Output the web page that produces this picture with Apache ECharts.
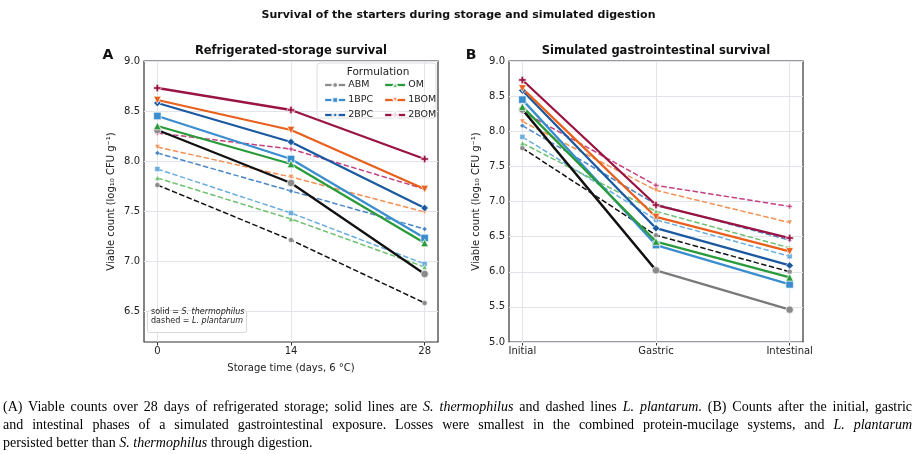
<!DOCTYPE html>
<html><head><meta charset="utf-8">
<script src="https://cdn.jsdelivr.net/npm/echarts@6.0.0/dist/echarts.min.js"></script>
<style>
html,body{margin:0;padding:0;background:#fff;}
#chart{position:absolute;left:0;top:0;width:917px;height:454px;}
#cap{position:absolute;left:3px;top:398px;width:909px;font-family:'Liberation Serif','Times New Roman',serif;font-size:14px;line-height:18px;color:#000;}
.j{text-align:justify;text-align-last:justify;}
</style></head>
<body>
<div id="chart"></div>
<div id="cap">
<div class="j">(A) Viable counts over 28 days of refrigerated storage; solid lines are <i>S. thermophilus</i> and dashed lines <i>L. plantarum</i>. (B) Counts after the initial, gastric</div>
<div class="j">and intestinal phases of a simulated gastrointestinal exposure. Losses were smallest in the combined protein-mucilage systems, and <i>L. plantarum</i></div>
<div>persisted better than <i>S. thermophilus</i> through digestion.</div>
</div>
<script>
// ---- data ----
const storageDays = [0, 14, 28];
const stages = ['Initial', 'Gastric', 'Intestinal'];
const stageIdx = [0, 1, 2];
const yTicksA = [6.5, 7.0, 7.5, 8.0, 8.5, 9.0];
const yTicksB = [5.0, 5.5, 6.0, 6.5, 7.0, 7.5, 8.0, 8.5, 9.0];
const formulations = ['ABM', '1BPC', '2BPC', 'OM', '1BOM', '2BOM'];

// Refrigerated storage, S. thermophilus (solid)
const storeSt_ABM  = [8.31, 7.78, 6.87];
const storeSt_1BPC = [8.45, 8.02, 7.23];
const storeSt_2BPC = [8.58, 8.19, 7.53];
const storeSt_OM   = [8.35, 7.97, 7.18];
const storeSt_1BOM = [8.61, 8.31, 7.72];
const storeSt_2BOM = [8.73, 8.51, 8.02];
// Refrigerated storage, L. plantarum (dashed)
const storeLp_ABM  = [7.76, 7.21, 6.58];
const storeLp_1BPC = [7.92, 7.48, 6.97];
const storeLp_2BPC = [8.08, 7.70, 7.32];
const storeLp_OM   = [7.83, 7.42, 6.94];
const storeLp_1BOM = [8.14, 7.84, 7.49];
const storeLp_2BOM = [8.28, 8.12, 7.72];
// Simulated digestion, S. thermophilus (solid)
const digSt_ABM  = [8.31, 6.02, 5.46];
const digSt_1BPC = [8.45, 6.38, 5.82];
const digSt_2BPC = [8.58, 6.62, 6.09];
const digSt_OM   = [8.35, 6.43, 5.92];
const digSt_1BOM = [8.61, 6.78, 6.29];
const digSt_2BOM = [8.73, 6.95, 6.48];
// Simulated digestion, L. plantarum (dashed)
const digLp_ABM  = [7.76, 6.52, 6.00];
const digLp_1BPC = [7.92, 6.74, 6.22];
const digLp_2BPC = [8.08, 6.96, 6.45];
const digLp_OM   = [7.83, 6.86, 6.34];
const digLp_1BOM = [8.14, 7.16, 6.70];
const digLp_2BOM = [8.28, 7.23, 6.93];

const storeSt = [storeSt_ABM, storeSt_1BPC, storeSt_2BPC, storeSt_OM, storeSt_1BOM, storeSt_2BOM];
const storeLp = [storeLp_ABM, storeLp_1BPC, storeLp_2BPC, storeLp_OM, storeLp_1BOM, storeLp_2BOM];
const digSt = [digSt_ABM, digSt_1BPC, digSt_2BPC, digSt_OM, digSt_1BOM, digSt_2BOM];
const digLp = [digLp_ABM, digLp_1BPC, digLp_2BPC, digLp_OM, digLp_1BOM, digLp_2BOM];

// ---- styles ----
const PLUS = 'path://M-1,-3H1V-1H3V1H1V3H-1V1H-3V-1H-1Z';
const sty = {
  'ABM':  {solid:'#111111', dash:'#111111', mark:'#8a8a8a', markD:'#8a8a8a', sym:'circle'},
  '1BPC': {solid:'#3a8ecf', dash:'#6aaee0', mark:'#3a8ecf', markD:'#6aaee0', sym:'rect'},
  '2BPC': {solid:'#1b5aa0', dash:'#4a86c5', mark:'#1b5aa0', markD:'#4a86c5', sym:'diamond'},
  'OM':   {solid:'#2a9b3a', dash:'#6cc070', mark:'#2a9b3a', markD:'#6cc070', sym:'triangle'},
  '1BOM': {solid:'#e8601c', dash:'#f39155', mark:'#e8601c', markD:'#f39155', sym:'path://M-4,-3.5L4,-3.5L0,3.5Z'},
  '2BOM': {solid:'#9a1442', dash:'#c44180', mark:'#9a1442', markD:'#c44180', sym:PLUS}
};
const FONT = 'DejaVu Sans';

function mk(name, xs, ys, gi, dashed, lineColorOverride) {
  const s = sty[name];
  return {
    name: name, type: 'line', xAxisIndex: gi, yAxisIndex: gi,
    data: xs.map((x, i) => [x, ys[i]]),
    symbol: s.sym, symbolSize: dashed ? 5 : 7.5,
    z: dashed ? 3 : 4,
    lineStyle: {color: lineColorOverride || (dashed ? s.dash : s.solid), width: dashed ? 1.5 : 2.3,
      type: dashed ? [5.5, 2.4] : 'solid'},
    itemStyle: {color: dashed ? s.markD : s.mark, borderColor: 'rgba(255,255,255,0.85)', borderWidth: dashed ? 0.5 : 0.8},
    emphasis: {disabled: true}, animation: false
  };
}

function gridSeries(gi, xs, ys) {
  return {
    name: 'grid' + gi, type: 'line', xAxisIndex: gi, yAxisIndex: gi, data: [], z: 1, silent: true,
    markLine: {
      z: 1, zlevel: 0, silent: true, symbol: 'none', animation: false, label: {show: false},
      lineStyle: {color: '#e1e5eb', width: 1, type: 'solid'},
      data: xs.map(x => ({xAxis: x})).concat(ys.map(y => ({yAxis: y})))
    }
  };
}

const series = [gridSeries(0, storageDays, yTicksA), gridSeries(1, stageIdx, yTicksB)];
formulations.forEach((f, i) => {
  series.push(mk(f, storageDays, storeSt[i], 0, false));
  series.push(mk(f, storageDays, storeLp[i], 0, true));
  series.push(mk(f, stageIdx, digSt[i], 1, false, f === 'ABM' ? '#7a7a7a' : null));
  series.push(mk(f, stageIdx, digLp[i], 1, true));
});
// black overlay on the first digestion segment of the ABM solid line
series.push({
  name: 'ABM-overlay', type: 'line', xAxisIndex: 1, yAxisIndex: 1,
  data: [0, 1].map(i => [stageIdx[i], digSt_ABM[i]]), symbol: 'none', z: 4, silent: true,
  lineStyle: {color: '#111111', width: 2.3}, animation: false
});

const axisCommon = {
  axisLine: {show: false},
  axisTick: {show: true, length: 3.5, lineStyle: {color: '#333', width: 1}},
  axisLabel: {color: '#222', fontFamily: FONT, fontSize: 10, margin: 4},
  splitLine: {show: false}
};
function deep(o){return JSON.parse(JSON.stringify(o));}

const xA = Object.assign(deep(axisCommon), {
  type: 'value', gridIndex: 0, min: -1.4, max: 29.4,
  name: 'Storage time (days, 6 °C)', nameLocation: 'middle', nameGap: 21,
  nameTextStyle: {fontFamily: FONT, fontSize: 10, color: '#222'}
});
xA.axisLabel.customValues = storageDays; xA.axisTick.customValues = storageDays;
xA.axisLabel.formatter = v => String(v);

const xB = Object.assign(deep(axisCommon), {type: 'value', gridIndex: 1, min: -0.1, max: 2.1});
xB.axisLabel.customValues = stageIdx; xB.axisTick.customValues = stageIdx;
xB.axisLabel.formatter = v => stages[Math.round(v)];

const yName = 'Viable count (log\u2081\u2080 CFU g\u207B\u00B9)';
const yA = Object.assign(deep(axisCommon), {
  type: 'value', gridIndex: 0, min: 6.19, max: 9.0,
  name: yName, nameLocation: 'middle', nameGap: 28,
  nameTextStyle: {fontFamily: FONT, fontSize: 10, color: '#222'}
});
yA.axisLabel.customValues = yTicksA; yA.axisTick.customValues = yTicksA;
yA.axisLabel.formatter = v => v.toFixed(1);

const yB = Object.assign(deep(axisCommon), {
  type: 'value', gridIndex: 1, min: 5.0, max: 9.0, interval: 0.5,
  name: yName, nameLocation: 'middle', nameGap: 28,
  nameTextStyle: {fontFamily: FONT, fontSize: 10, color: '#222'}
});
yB.axisLabel.formatter = v => v.toFixed(1);

function legendItem(f) {
  const s = sty[f];
  return {name: f, itemStyle: {color: s.mark}, lineStyle: {color: f === 'ABM' ? '#8a8a8a' : s.solid, width: 2.3}};
}
const legendBase = {
  orient: 'vertical', itemWidth: 20, itemHeight: 7, itemGap: 5, selectedMode: false,
  textStyle: {fontFamily: FONT, fontSize: 9.5, color: '#222', padding: [0, 0, 0, -2]}, padding: 0
};

const option = {
  animation: false,
  backgroundColor: '#fff',
  textStyle: {fontFamily: FONT},
  grid: [
    {left: 144, top: 61, width: 294, height: 281, show: true, borderColor: '#333', borderWidth: 1.2, backgroundColor: 'transparent'},
    {left: 509, top: 61, width: 294, height: 281, show: true, borderColor: '#333', borderWidth: 1.2, backgroundColor: 'transparent'}
  ],
  xAxis: [xA, xB],
  yAxis: [yA, yB],
  legend: [
    Object.assign({}, legendBase, {left: 324, top: 80, data: formulations.slice(0, 3).map(legendItem)}),
    Object.assign({}, legendBase, {left: 384, top: 80, data: formulations.slice(3).map(legendItem)})
  ],
  graphic: [
    {type: 'text', left: 'center', top: 10, style: {text: 'Survival of the starters during storage and simulated digestion', font: 'bold 11px "DejaVu Sans"', fill: '#111'}},
    {type: 'text', x: 291, y: 51, style: {text: 'Refrigerated-storage survival', font: 'bold 11.5px "DejaVu Sans"', fill: '#111', align: 'center', verticalAlign: 'middle'}},
    {type: 'text', x: 656, y: 51, style: {text: 'Simulated gastrointestinal survival', font: 'bold 11.5px "DejaVu Sans"', fill: '#111', align: 'center', verticalAlign: 'middle'}},
    {type: 'text', x: 108, y: 55, style: {text: 'A', font: 'bold 14px "DejaVu Sans"', fill: '#111', align: 'center', verticalAlign: 'middle'}},
    {type: 'text', x: 471, y: 55, style: {text: 'B', font: 'bold 14px "DejaVu Sans"', fill: '#111', align: 'center', verticalAlign: 'middle'}},
    {type: 'rect', z: 0, shape: {x: 317, y: 63, width: 119, height: 55, r: 3}, style: {fill: 'rgba(255,255,255,0.85)', stroke: '#d5d5d5', lineWidth: 0.8}},
    {type: 'text', z: 10, x: 378, y: 72.5, style: {text: 'Formulation', font: '10.5px "DejaVu Sans"', fill: '#222', align: 'center', verticalAlign: 'middle'}},
    {type: 'rect', z: 10, shape: {x: 147.5, y: 310.5, width: 99, height: 22, r: 2}, style: {fill: 'rgba(255,255,255,0.9)', stroke: '#cfcfcf', lineWidth: 0.8}},
    {type: 'text', z: 11, x: 151, y: 316.5, style: {
      text: '{n|solid = }{i|S. thermophilus}\n{n|dashed = }{i|L. plantarum}',
      verticalAlign: 'middle', lineHeight: 9.5,
      rich: {n: {font: '8px "DejaVu Sans"', fill: '#222'}, i: {font: 'italic 8px "DejaVu Sans"', fill: '#222'}}
    }}
  ],
  series: series
};
const chart = echarts.init(document.getElementById('chart'), null, {renderer: 'canvas'});
chart.setOption(option);
</script>
</body></html>
